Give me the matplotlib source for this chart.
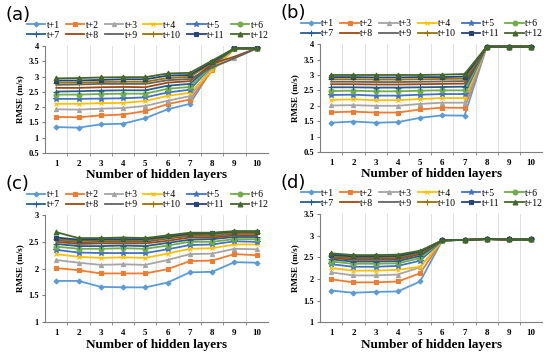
import numpy as np
import matplotlib.pyplot as plt

layers = list(range(1, 11))
series = ['t+1', 't+2', 't+3', 't+4', 't+5', 't+6', 't+7', 't+8', 't+9', 't+10', 't+11', 't+12']

# panel (a)
rmse_a = [
    [1.35, 1.33, 1.44, 1.46, 1.64, 1.93, 2.11, 3.25, 3.92, 3.92],
    [1.68, 1.67, 1.73, 1.76, 1.87, 2.10, 2.25, 3.20, 3.90, 3.92],
    [1.93, 1.92, 1.95, 1.97, 2.04, 2.21, 2.36, 3.30, 3.60, 3.92],
    [2.11, 2.11, 2.13, 2.14, 2.20, 2.37, 2.47, 3.20, 3.92, 3.92],
    [2.27, 2.27, 2.28, 2.29, 2.32, 2.48, 2.57, 3.35, 3.92, 3.92],
    [2.41, 2.41, 2.43, 2.44, 2.44, 2.60, 2.66, 3.35, 3.92, 3.92],
    [2.51, 2.52, 2.54, 2.55, 2.55, 2.70, 2.76, 3.40, 3.92, 3.92],
    [2.63, 2.63, 2.65, 2.66, 2.65, 2.80, 2.85, 3.42, 3.65, 3.92],
    [2.73, 2.74, 2.76, 2.76, 2.76, 2.88, 2.92, 3.30, 3.60, 3.92],
    [2.80, 2.80, 2.82, 2.83, 2.83, 2.95, 2.99, 3.45, 3.92, 3.92],
    [2.87, 2.87, 2.89, 2.91, 2.91, 3.03, 3.05, 3.48, 3.92, 3.92],
    [2.94, 2.95, 2.97, 2.98, 2.98, 3.10, 3.12, 3.52, 3.92, 3.92],
]

# panel (b)
rmse_b = [
    [1.45, 1.49, 1.45, 1.47, 1.61, 1.69, 1.68, 3.92, 3.92, 3.92],
    [1.79, 1.81, 1.78, 1.78, 1.88, 1.94, 1.93, 3.92, 3.92, 3.92],
    [2.01, 2.02, 2.00, 2.00, 2.06, 2.10, 2.10, 3.92, 3.92, 3.92],
    [2.19, 2.21, 2.18, 2.18, 2.22, 2.25, 2.25, 3.92, 3.92, 3.92],
    [2.35, 2.36, 2.33, 2.33, 2.36, 2.38, 2.38, 3.92, 3.92, 3.92],
    [2.48, 2.49, 2.47, 2.47, 2.49, 2.50, 2.50, 3.92, 3.92, 3.92],
    [2.60, 2.60, 2.59, 2.59, 2.60, 2.61, 2.62, 3.92, 3.92, 3.92],
    [2.70, 2.70, 2.69, 2.69, 2.70, 2.71, 2.72, 3.92, 3.92, 3.92],
    [2.78, 2.78, 2.77, 2.77, 2.78, 2.79, 2.80, 3.92, 3.92, 3.92],
    [2.86, 2.86, 2.85, 2.85, 2.86, 2.87, 2.88, 3.92, 3.92, 3.92],
    [2.93, 2.93, 2.92, 2.92, 2.93, 2.93, 2.95, 3.92, 3.92, 3.92],
    [3.00, 3.00, 3.00, 3.00, 3.00, 3.01, 3.03, 3.92, 3.92, 3.92],
]

# panel (c)
rmse_c = [
    [1.77, 1.77, 1.66, 1.65, 1.65, 1.74, 1.93, 1.94, 2.12, 2.11],
    [2.01, 1.97, 1.91, 1.91, 1.91, 1.99, 2.14, 2.15, 2.27, 2.25],
    [2.16, 2.11, 2.07, 2.08, 2.07, 2.16, 2.27, 2.28, 2.37, 2.36],
    [2.27, 2.22, 2.20, 2.21, 2.20, 2.28, 2.37, 2.38, 2.45, 2.45],
    [2.35, 2.30, 2.29, 2.29, 2.29, 2.36, 2.44, 2.45, 2.51, 2.50],
    [2.41, 2.37, 2.37, 2.38, 2.37, 2.43, 2.50, 2.50, 2.55, 2.55],
    [2.46, 2.42, 2.42, 2.43, 2.42, 2.48, 2.54, 2.55, 2.59, 2.59],
    [2.50, 2.46, 2.47, 2.47, 2.47, 2.52, 2.58, 2.58, 2.62, 2.62],
    [2.53, 2.49, 2.50, 2.50, 2.50, 2.56, 2.61, 2.61, 2.65, 2.65],
    [2.55, 2.52, 2.53, 2.53, 2.53, 2.58, 2.63, 2.64, 2.67, 2.67],
    [2.58, 2.54, 2.55, 2.55, 2.55, 2.60, 2.65, 2.66, 2.69, 2.69],
    [2.68, 2.57, 2.57, 2.58, 2.57, 2.62, 2.67, 2.67, 2.70, 2.70],
]

# panel (d)
rmse_d = [
    [1.73, 1.68, 1.70, 1.71, 1.94, 2.89, 2.90, 2.92, 2.91, 2.91],
    [1.99, 1.92, 1.92, 1.94, 2.13, 2.89, 2.90, 2.92, 2.91, 2.91],
    [2.15, 2.08, 2.08, 2.10, 2.27, 2.89, 2.90, 2.92, 2.91, 2.91],
    [2.25, 2.19, 2.19, 2.21, 2.28, 2.89, 2.90, 2.92, 2.91, 2.91],
    [2.34, 2.28, 2.28, 2.30, 2.42, 2.89, 2.90, 2.92, 2.91, 2.91],
    [2.40, 2.35, 2.35, 2.36, 2.48, 2.89, 2.90, 2.92, 2.91, 2.91],
    [2.45, 2.40, 2.40, 2.41, 2.53, 2.89, 2.90, 2.92, 2.91, 2.91],
    [2.49, 2.44, 2.44, 2.45, 2.57, 2.89, 2.90, 2.92, 2.91, 2.91],
    [2.52, 2.47, 2.47, 2.48, 2.60, 2.89, 2.90, 2.92, 2.91, 2.91],
    [2.54, 2.50, 2.50, 2.51, 2.62, 2.89, 2.90, 2.92, 2.91, 2.91],
    [2.56, 2.52, 2.52, 2.53, 2.63, 2.89, 2.90, 2.92, 2.91, 2.91],
    [2.59, 2.55, 2.55, 2.56, 2.65, 2.89, 2.90, 2.92, 2.91, 2.91],
]

colors = ['#5B9BD5', '#ED7D31', '#A5A5A5', '#FFC000', '#4472C4', '#70AD47',
          '#255E91', '#9E480E', '#636363', '#997300', '#264478', '#43682B']
markers = ['D', 's', '^', 'x', '*', 'o', '+', '', '', '+', 's', '^']
msizes = [2.5, 3.5, 3, 3.5, 4, 3.5, 4, 0, 0, 4, 3.5, 3.5]

panels = [
    ('(a)', rmse_a, (0.082, 0.570, 0.405, 0.301), (0.5, 4.0), np.arange(0.5, 4.01, 0.5)),
    ('(b)', rmse_b, (0.582, 0.573, 0.404, 0.303), (0.5, 4.0), np.arange(0.5, 4.01, 0.5)),
    ('(c)', rmse_c, (0.082, 0.095, 0.405, 0.301), (1.0, 3.0), np.arange(1.0, 3.01, 0.5)),
    ('(d)', rmse_d, (0.582, 0.095, 0.404, 0.304), (1.0, 3.5), np.arange(1.0, 3.51, 0.5)),
]

serif = 'Liberation Serif'
fig = plt.figure(figsize=(5.5, 3.56), dpi=100)

# legend fills column by column, so interleave to get rows t+1..t+6 / t+7..t+12
order = []
for k in range(6):
    order += [k, k + 6]

for label, data, rect, ylim, yticks in panels:
    ax = fig.add_axes(rect)
    lines = []
    for i, name in enumerate(series):
        ln, = ax.plot(layers, data[i], color=colors[i], marker=markers[i] or None,
                      markersize=msizes[i], linewidth=1.3, label=name,
                      markeredgewidth=0.8)
        lines.append(ln)
    ax.set_xlim(0.5, 10.5)
    ax.set_ylim(*ylim)
    ax.set_yticks(yticks)
    ax.set_yticklabels(['%g' % v for v in yticks], fontfamily=serif,
                       fontweight='bold', fontsize=6)
    ax.set_xticks(layers)
    ax.set_xticklabels([str(v) for v in layers], fontfamily=serif,
                       fontweight='bold', fontsize=6.5)
    ax.set_xticks(np.arange(1.5, 10.5, 1), minor=True)
    ax.tick_params(axis='x', which='major', length=0, pad=5)
    ax.tick_params(axis='x', which='minor', length=2.5, color='#7f7f7f')
    ax.tick_params(axis='y', length=2.5, color='#7f7f7f', pad=2)
    ax.grid(True, axis='x', which='minor', color='#d9d9d9', linewidth=0.6)
    for side in ['top', 'right']:
        ax.spines[side].set_visible(False)
    for side in ['left', 'bottom']:
        ax.spines[side].set_color('#7f7f7f')
        ax.spines[side].set_linewidth(0.8)
    ax.set_xlabel('Number of hidden layers', fontfamily=serif, fontweight='bold',
                  fontsize=9.5, labelpad=1)
    ax.set_ylabel('RMSE (m/s)', fontfamily=serif, fontweight='bold',
                  fontsize=6.5, labelpad=3)
    ax.legend([lines[k] for k in order], [series[k] for k in order],
              ncol=6, loc='center', bbox_to_anchor=(0.46, 1.145),
              frameon=False, prop={'family': serif, 'size': 7},
              handlelength=1.9, handletextpad=0.15, columnspacing=0.6,
              labelspacing=0.1, borderpad=0.1)
    ax.text(-0.18, 1.29, label, transform=ax.transAxes, fontsize=13,
            va='center', ha='left')

plt.savefig('out.png', dpi=100)
